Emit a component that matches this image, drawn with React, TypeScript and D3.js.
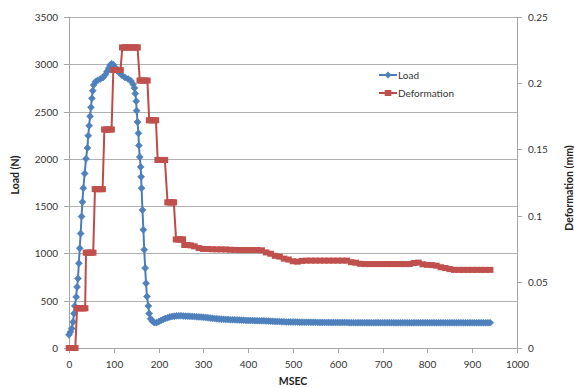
import { useEffect, useRef } from "react";
import * as d3 from "d3";

// ── Axis ticks ─────────────────────────────────────────────
const msecTicks = [0, 100, 200, 300, 400, 500, 600, 700, 800, 900, 1000];
const loadTicks = [0, 500, 1000, 1500, 2000, 2500, 3000, 3500];
const defTicks = [0, 0.05, 0.1, 0.15, 0.2, 0.25];

// ── Load (N) vs MSEC ───────────────────────────────────────
const loadPoints: [number, number][] = [
  [0, 140], [3, 170], [6, 205], [9, 275], [11, 365], [13, 445], [16, 540], [18, 645],
  [20, 735], [22, 895], [24, 1055], [26, 1210], [28, 1390], [30, 1545], [32, 1690],
  [35, 1845], [38, 2000], [41, 2115], [43, 2245], [45, 2350], [47, 2450], [49, 2545],
  [51, 2640], [53, 2720], [55, 2780], [59, 2815], [64, 2830], [70, 2845], [76, 2860],
  [81, 2890], [85, 2925], [89, 2960], [92, 2990], [95, 3005], [99, 2995], [103, 2965],
  [107, 2935], [112, 2910], [118, 2885], [125, 2860], [132, 2845], [138, 2825],
  [143, 2790], [146, 2750], [148, 2690], [150, 2610], [151, 2510], [153, 2390],
  [155, 2270], [156, 2140], [158, 2020], [160, 1915], [161, 1810], [162, 1690],
  [164, 1460], [166, 1250], [168, 1040], [170, 845], [172, 685], [174, 545],
  [177, 445], [179, 365], [182, 310], [186, 285], [190, 270], [195, 268], [200, 278],
  [205, 290], [210, 301], [215, 312], [220, 320], [225, 328], [230, 333], [235, 337],
  [240, 340], [245, 340], [250, 340], [255, 339], [260, 337], [265, 336], [270, 335],
  [275, 333], [280, 332], [285, 330], [290, 329], [295, 327], [300, 325], [305, 322],
  [310, 320], [315, 317], [320, 314], [325, 311], [330, 309], [335, 307], [340, 305],
  [345, 303], [350, 302], [355, 301], [360, 300], [365, 299], [370, 298], [375, 297],
  [380, 296], [385, 294], [390, 293], [395, 292], [400, 291], [405, 290], [410, 290],
  [415, 289], [420, 289], [425, 288], [430, 288], [435, 287], [440, 286], [445, 285],
  [450, 284], [455, 282], [460, 281], [465, 280], [470, 279], [475, 278], [480, 277],
  [485, 276], [490, 276], [495, 275], [500, 275], [505, 274], [510, 274], [515, 273],
  [520, 273], [525, 272], [530, 272], [535, 272], [540, 272], [545, 271], [550, 271],
  [555, 270], [560, 270], [565, 270], [570, 270], [575, 270], [580, 270], [585, 269],
  [590, 269], [595, 269], [600, 269], [605, 269], [610, 269], [615, 269], [620, 269],
  [625, 268], [630, 268], [635, 268], [640, 268], [645, 268], [650, 268], [655, 268],
  [660, 268], [665, 268], [670, 268], [675, 268], [680, 268], [685, 268], [690, 268],
  [695, 268], [700, 268], [705, 268], [710, 268], [715, 268], [720, 268], [725, 267],
  [730, 267], [735, 267], [740, 267], [745, 267], [750, 267], [755, 267], [760, 267],
  [765, 267], [770, 267], [775, 267], [780, 267], [785, 267], [790, 267], [795, 267],
  [800, 267], [805, 267], [810, 267], [815, 267], [820, 267], [825, 267], [830, 267],
  [835, 267], [840, 267], [845, 267], [850, 267], [855, 267], [860, 267], [865, 267],
  [870, 267], [875, 267], [880, 267], [885, 267], [890, 267], [895, 267], [900, 267],
  [905, 267], [910, 267], [915, 267], [920, 267], [925, 267], [930, 267], [935, 267],
  [940, 267],
];

// ── Deformation (mm) vs MSEC ───────────────────────────────
const deformationPoints: [number, number][] = [
  [0, 0], [3, 0], [6, 0], [9, 0], [12, 0], [14, 0],
  [18, 0.03], [22, 0.03], [26, 0.03], [30, 0.03], [33, 0.03], [36, 0.03],
  [38, 0.072], [42, 0.072], [46, 0.072], [50, 0.072], [54, 0.072],
  [58, 0.12], [62, 0.12], [66, 0.12], [70, 0.12], [73, 0.12], [75, 0.12],
  [79, 0.165], [83, 0.165], [87, 0.165], [91, 0.165], [95, 0.165],
  [99, 0.21], [103, 0.21], [107, 0.21], [111, 0.21], [115, 0.21],
  [119, 0.227], [123, 0.227], [127, 0.227], [131, 0.227], [135, 0.227], [139, 0.227],
  [143, 0.227], [147, 0.227], [150, 0.227], [153, 0.227],
  [158, 0.202], [162, 0.202], [166, 0.202], [170, 0.202], [175, 0.202],
  [179, 0.172], [183, 0.172], [187, 0.172], [191, 0.172], [194, 0.172],
  [198, 0.142], [202, 0.142], [206, 0.142], [210, 0.142], [214, 0.142],
  [220, 0.11], [224, 0.11], [228, 0.11], [231, 0.11], [234, 0.11],
  [239, 0.082], [243, 0.082], [247, 0.082], [251, 0.082], [254, 0.082],
  [258, 0.0778], [265, 0.0778], [272, 0.0775], [280, 0.0768], [290, 0.0755],
  [300, 0.0748], [310, 0.0748], [320, 0.0746], [330, 0.0745], [340, 0.0745],
  [350, 0.0744], [360, 0.0742], [370, 0.0741], [380, 0.074], [390, 0.074],
  [400, 0.074], [410, 0.074], [420, 0.074], [430, 0.0738], [440, 0.0722],
  [450, 0.0712], [460, 0.0696], [470, 0.069], [480, 0.0675], [490, 0.0668],
  [500, 0.0655], [510, 0.0652], [520, 0.0658], [530, 0.066], [540, 0.066],
  [550, 0.066], [560, 0.066], [570, 0.066], [580, 0.066], [590, 0.066], [600, 0.066],
  [610, 0.066], [620, 0.066], [630, 0.0648], [640, 0.0644], [650, 0.0636],
  [660, 0.0634], [670, 0.0634], [680, 0.0634], [690, 0.0634], [700, 0.0634],
  [710, 0.0634], [720, 0.0634], [730, 0.0634], [740, 0.0634], [750, 0.0634],
  [760, 0.0634], [770, 0.0642], [780, 0.0645], [790, 0.0632], [800, 0.0628],
  [810, 0.0626], [820, 0.0622], [830, 0.061], [840, 0.0604], [850, 0.0596],
  [860, 0.059], [870, 0.059], [880, 0.059], [890, 0.059], [900, 0.059], [910, 0.059],
  [920, 0.059], [930, 0.059], [940, 0.059],
];

const FONT = "Lato, 'Open Sans', Arial, sans-serif";
const BLUE_LINE = "#4A7EBB";
const BLUE = "#4F81BD";
const RED_LINE = "#BE4B48";
const RED = "#C0504D";

const App = () => {
  const ref = useRef<SVGSVGElement>(null);

  useEffect(() => {
    const el = ref.current;
    if (!el) return;
    const svg = d3.select(el);
    svg.selectAll("*").remove();

    const x = d3.scaleLinear().domain([0, 1000]).range([69, 517]);
    const yLoad = d3.scaleLinear().domain([0, 3500]).range([348, 17]);
    const yDef = d3.scaleLinear().domain([0, 0.25]).range([348, 17]);

    svg.append("rect").attr("width", 574).attr("height", 388).attr("fill", "#fff");

    // ── Grid lines ───────────────────────────────────────────
    svg.append("g")
      .selectAll("line")
      .data(loadTicks.filter(d => d > 0))
      .enter()
      .append("line")
      .attr("x1", x(0)).attr("x2", x(1000))
      .attr("y1", d => Math.round(yLoad(d)) + 0.5)
      .attr("y2", d => Math.round(yLoad(d)) + 0.5)
      .attr("stroke", "#B0B0B0");

    const axisColor = "#A6A6A6";
    const labelColor = "#333";

    // ── Left axis ────────────────────────────────────────────
    const left = svg.append("g");
    left.append("line")
      .attr("x1", 69.5).attr("x2", 69.5).attr("y1", yLoad(3500)).attr("y2", yLoad(0))
      .attr("stroke", axisColor);
    loadTicks.forEach(d => {
      const yy = Math.round(yLoad(d)) + 0.5;
      left.append("line").attr("x1", 64).attr("x2", 69).attr("y1", yy).attr("y2", yy).attr("stroke", axisColor);
      left.append("text")
        .attr("x", 58).attr("y", yy).attr("dy", "0.35em")
        .attr("text-anchor", "end")
        .style("font-family", FONT).style("font-size", "10px").style("fill", labelColor)
        .text(d);
    });

    // ── Right axis ───────────────────────────────────────────
    const right = svg.append("g");
    right.append("line")
      .attr("x1", 517.5).attr("x2", 517.5).attr("y1", yDef(0.25)).attr("y2", yDef(0))
      .attr("stroke", axisColor);
    defTicks.forEach(d => {
      const yy = Math.round(yDef(d)) + 0.5;
      right.append("line").attr("x1", 517).attr("x2", 522).attr("y1", yy).attr("y2", yy).attr("stroke", axisColor);
      right.append("text")
        .attr("x", 528).attr("y", yy).attr("dy", "0.35em")
        .style("font-family", FONT).style("font-size", "10px").style("fill", labelColor)
        .text(d3.format("~g")(d));
    });

    // ── Bottom axis ──────────────────────────────────────────
    const bottom = svg.append("g");
    bottom.append("line")
      .attr("x1", x(0)).attr("x2", x(1000)).attr("y1", 348.5).attr("y2", 348.5)
      .attr("stroke", axisColor);
    msecTicks.forEach(d => {
      const xx = Math.round(x(d)) + 0.5;
      bottom.append("line").attr("x1", xx).attr("x2", xx).attr("y1", 348).attr("y2", 353).attr("stroke", axisColor);
      bottom.append("text")
        .attr("x", xx).attr("y", 368)
        .attr("text-anchor", "middle")
        .style("font-family", FONT).style("font-size", "10px").style("fill", labelColor)
        .text(d);
    });

    // ── Axis titles ──────────────────────────────────────────
    const title = (tx: number, ty: number, rot: number, s: string) =>
      svg.append("text")
        .attr("transform", `translate(${tx},${ty}) rotate(${rot})`)
        .attr("text-anchor", "middle")
        .style("font-family", FONT).style("font-size", "10.5px").style("font-weight", "700")
        .style("fill", "#222")
        .text(s);
    title(293, 385, 0, "MSEC");
    title(19, 175, -90, "Load (N)");
    title(573, 188, -90, "Deformation (mm)");

    // ── Series ───────────────────────────────────────────────
    const diamond = "M0,-3.5L3.5,0L0,3.5L-3.5,0Z";

    const loadLine = d3.line<[number, number]>().x(d => x(d[0])).y(d => yLoad(d[1]));
    svg.append("path")
      .attr("d", loadLine(loadPoints))
      .attr("fill", "none").attr("stroke", BLUE_LINE).attr("stroke-width", 2);
    svg.append("g")
      .selectAll("path")
      .data(loadPoints)
      .enter()
      .append("path")
      .attr("d", diamond)
      .attr("transform", d => `translate(${x(d[0])},${yLoad(d[1])})`)
      .attr("fill", BLUE).attr("stroke", BLUE_LINE).attr("stroke-width", 0.6);

    const defLine = d3.line<[number, number]>().x(d => x(d[0])).y(d => yDef(d[1]));
    svg.append("path")
      .attr("d", defLine(deformationPoints))
      .attr("fill", "none").attr("stroke", RED_LINE).attr("stroke-width", 2);
    svg.append("g")
      .selectAll("rect")
      .data(deformationPoints)
      .enter()
      .append("rect")
      .attr("x", d => x(d[0]) - 3.3).attr("y", d => yDef(d[1]) - 3)
      .attr("width", 6.6).attr("height", 6)
      .attr("fill", RED);

    // ── Legend ───────────────────────────────────────────────
    const legend = svg.append("g");
    const items = [
      { label: "Load", color: BLUE_LINE, fill: BLUE, y: 75, shape: "diamond" },
      { label: "Deformation", color: RED_LINE, fill: RED, y: 93, shape: "square" },
    ];
    items.forEach(it => {
      legend.append("line")
        .attr("x1", 379).attr("x2", 397).attr("y1", it.y).attr("y2", it.y)
        .attr("stroke", it.color).attr("stroke-width", 2);
      if (it.shape === "diamond") {
        legend.append("path").attr("d", diamond)
          .attr("transform", `translate(388,${it.y})`).attr("fill", it.fill);
      } else {
        legend.append("rect").attr("x", 384.7).attr("y", it.y - 3)
          .attr("width", 6.6).attr("height", 6).attr("fill", it.fill);
      }
      legend.append("text")
        .attr("x", 398).attr("y", it.y).attr("dy", "0.35em")
        .style("font-family", FONT).style("font-size", "10px").style("fill", labelColor)
        .text(it.label);
    });

    return () => { d3.select(el).selectAll("*").remove(); };
  }, []);

  return (
    <div style={{ position: "absolute", left: 0, top: 0 }}>
      <svg ref={ref} width={574} height={388} style={{ display: "block" }} />
    </div>
  );
};

export default App;
